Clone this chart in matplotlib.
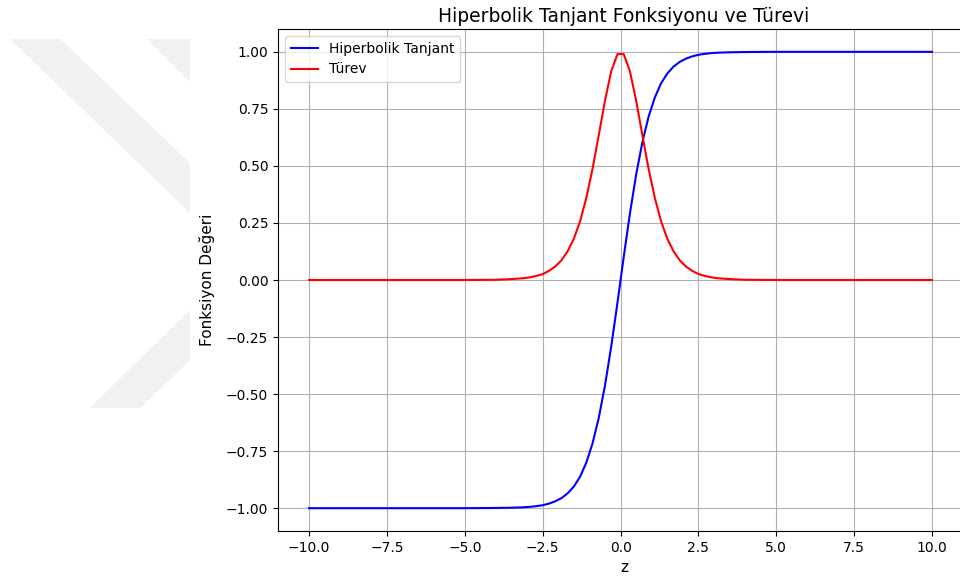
import matplotlib.pyplot as plt
from matplotlib.patches import Polygon

# values (positive half, mirrored below)
z_pos = [0.1, 0.3, 0.5, 0.7, 0.9, 1.1, 1.3, 1.5, 1.7, 1.9, 2.1, 2.3, 2.5, 2.7,
         2.9, 3.1, 3.5, 4, 5, 7.5, 10]
tanh_pos = [0.100, 0.291, 0.462, 0.604, 0.716, 0.800, 0.862, 0.905, 0.935,
            0.956, 0.970, 0.980, 0.987, 0.991, 0.994, 0.996, 0.998, 0.999,
            1.0, 1.0, 1.0]
deriv_pos = [0.990, 0.915, 0.786, 0.635, 0.487, 0.360, 0.257, 0.181, 0.126,
             0.086, 0.059, 0.040, 0.026, 0.018, 0.012, 0.008, 0.004, 0.001,
             0.0, 0.0, 0.0]

z = [-v for v in z_pos[::-1]] + z_pos
tanh_vals = [-v for v in tanh_pos[::-1]] + tanh_pos
deriv_vals = deriv_pos[::-1] + deriv_pos

W, H = 960, 582
fig = plt.figure(figsize=(W / 100, H / 100), dpi=100)

# faint watermark shapes on the left
def px(pts):
    return [(x / W, 1 - y / H) for x, y in pts]

for pts in [[(10, 39), (60, 39), (190, 163), (190, 213)],
            [(147, 39), (190, 39), (190, 82)],
            [(90, 408), (140, 408), (190, 360), (190, 310)]]:
    fig.patches.append(Polygon(px(pts), closed=True, transform=fig.transFigure,
                               facecolor='#f1f1f1', edgecolor='none', zorder=0))

# axes run a little past the right edge, as in the cropped original
ax = fig.add_axes([278 / W, 1 - 531 / H, 692 / W, 502 / H])
ax.plot(z, tanh_vals, color='blue', label='Hiperbolik Tanjant')
ax.plot(z, deriv_vals, color='red', label='Türev')
ax.set_xlim(-11, 11.22)
ax.set_ylim(-1.1, 1.1)
ax.spines['right'].set_visible(False)
ax.set_title('Hiperbolik Tanjant Fonksiyonu ve Türevi', fontsize=13.5, pad=5)
ax.set_xlabel('z', fontsize=11, labelpad=4)
ax.set_ylabel('Fonksiyon Değeri', fontsize=11, labelpad=8)
ax.legend(loc='upper left')
ax.grid(True)

fig.savefig('out.png', dpi=100)
